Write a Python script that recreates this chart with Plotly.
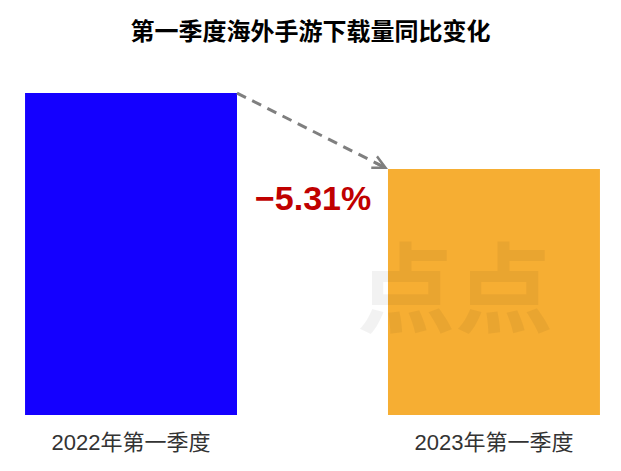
import plotly.graph_objects as go

categories = ["2022年第一季度", "2023年第一季度"]
values = [100.0, 94.69]
change_label = "−5.31%"
title_text = "第一季度海外手游下载量同比变化"
colors = ["#1400FF", "#F6AE33"]

bar_w = 0.584
fig = go.Figure()
fig.add_trace(go.Bar(
    x=[0, 1], y=values, width=bar_w,
    marker=dict(color=colors, line=dict(width=0)),
    hoverinfo="skip",
))

x0 = 0 + bar_w / 2
x1 = 1 - bar_w / 2
fig.add_shape(type="line", xref="x", yref="y",
              x0=x0, y0=values[0], x1=x1 - 0.004, y1=values[1] + 0.05,
              line=dict(color="#7F7F7F", width=3, dash="10px,7px"))
fig.add_annotation(x=x1, y=values[1], xref="x", yref="y",
                   ax=-14, ay=-7, axref="pixel", ayref="pixel",
                   text="", showarrow=True, arrowhead=5, arrowsize=1,
                   arrowwidth=2.5, arrowcolor="#7F7F7F")

fig.add_annotation(x=0.5, y=(values[0] + values[1]) / 2 - 4.7, xref="x", yref="y",
                   text="<b>" + change_label + "</b>", showarrow=False,
                   font=dict(family="Liberation Sans, Arial", size=34, color="#C00000"))

# faint watermark
fig.add_annotation(x=355 / 621, y=(471 - 295) / 471, xref="paper", yref="paper",
                   xanchor="left", yanchor="middle",
                   text="<b>点点</b>", showarrow=False,
                   font=dict(family="Noto Sans CJK SC", size=98, color="rgba(0,0,0,0.05)"))

fig.update_layout(
    width=621, height=471,
    margin=dict(l=0, r=0, t=60, b=56),
    paper_bgcolor="white", plot_bgcolor="white",
    showlegend=False,
    title=dict(text="<b>" + title_text + "</b>", x=0.5, xanchor="center",
               y=1 - 32 / 471, yanchor="middle",
               font=dict(family="Noto Sans CJK SC", size=24, color="#000000")),
    xaxis=dict(range=[-0.361, 1.350], tickvals=[0, 1], ticktext=categories,
               showgrid=False, zeroline=False, showline=False, ticks="",
               ticklabelstandoff=12,
               tickfont=dict(family="Liberation Sans, Noto Sans CJK SC", size=22, color="#333333")),
    yaxis=dict(range=[77.5, 102.31], visible=False, showgrid=False, zeroline=False),
)

fig.write_html("out.html")
